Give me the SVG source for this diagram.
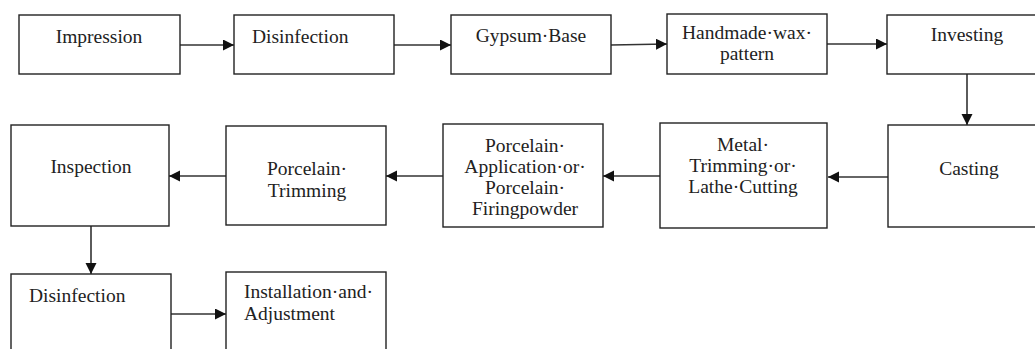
<svg xmlns="http://www.w3.org/2000/svg" width="1035" height="349" viewBox="0 0 1035 349">
<style>
.box{fill:#fff;stroke:#222;stroke-width:1.4}
.t{font-family:"Liberation Serif","Times New Roman",serif;font-size:19.5px;fill:#222}
.c{text-anchor:middle}
.ln{fill:none;stroke:#333;stroke-width:1.6}
</style>
<defs>
<marker id="ah" markerUnits="userSpaceOnUse" markerWidth="12" markerHeight="12" refX="11" refY="5.5" orient="auto">
<path d="M0,0 L11,5.5 L0,11 z" fill="#111"/>
</marker>
<clipPath id="cp"><rect x="443" y="124" width="160" height="102.5"/></clipPath>
</defs>
<rect width="1035" height="349" fill="#fff"/>
<g id="connectors">
<line class="ln" x1="180" y1="45" x2="234" y2="45" marker-end="url(#ah)"/>
<line class="ln" x1="394" y1="45" x2="451" y2="45" marker-end="url(#ah)"/>
<line class="ln" x1="611" y1="45" x2="667" y2="44" marker-end="url(#ah)"/>
<line class="ln" x1="827" y1="44" x2="887" y2="44" marker-end="url(#ah)"/>
<line class="ln" x1="967" y1="74" x2="967" y2="125" marker-end="url(#ah)"/>
<line class="ln" x1="888" y1="177" x2="828" y2="177" marker-end="url(#ah)"/>
<line class="ln" x1="660" y1="176" x2="603" y2="176" marker-end="url(#ah)"/>
<line class="ln" x1="443" y1="176" x2="386" y2="176" marker-end="url(#ah)"/>
<line class="ln" x1="226" y1="176" x2="169" y2="176" marker-end="url(#ah)"/>
<line class="ln" x1="91" y1="226" x2="91" y2="274" marker-end="url(#ah)"/>
<line class="ln" x1="171" y1="314" x2="226" y2="314" marker-end="url(#ah)"/>
</g>
<g id="impression">
<rect class="box" x="19" y="15" width="161" height="59"/>
<text class="t c" x="99" y="43">Impression</text>
</g>
<g id="disinfection1">
<rect class="box" x="234" y="15" width="160" height="59"/>
<text class="t" x="252" y="43">Disinfection</text>
</g>
<g id="gypsum">
<rect class="box" x="451" y="15" width="160" height="59"/>
<text class="t c" x="531" y="42">Gypsum·Base</text>
</g>
<g id="wax">
<rect class="box" x="667" y="14" width="160" height="60"/>
<text class="t c" x="747" y="39">Handmade·wax·</text>
<text class="t c" x="747" y="60">pattern</text>
</g>
<g id="investing">
<rect class="box" x="887" y="15" width="160" height="59"/>
<text class="t c" x="967" y="41">Investing</text>
</g>
<g id="casting">
<rect class="box" x="888" y="125" width="160" height="102"/>
<text class="t c" x="969" y="175">Casting</text>
</g>
<g id="metal">
<rect class="box" x="660" y="123" width="167" height="105"/>
<text class="t c" x="743" y="151">Metal·</text>
<text class="t c" x="743" y="172">Trimming·or·</text>
<text class="t c" x="743" y="193">Lathe·Cutting</text>
</g>
<g id="porcelain-application">
<rect class="box" x="443" y="124" width="160" height="103"/>
<g clip-path="url(#cp)">
<text class="t c" x="525" y="152">Porcelain·</text>
<text class="t c" x="525" y="173">Application·or·</text>
<text class="t c" x="525" y="194">Porcelain·</text>
<text class="t c" x="525" y="215">Firingpowder</text>
</g>
</g>
<g id="porcelain-trimming">
<rect class="box" x="226" y="126" width="160" height="99"/>
<text class="t c" x="307" y="175">Porcelain·</text>
<text class="t c" x="307" y="197">Trimming</text>
</g>
<g id="inspection">
<rect class="box" x="11" y="125" width="158" height="101"/>
<text class="t c" x="91" y="173">Inspection</text>
</g>
<g id="disinfection2">
<rect class="box" x="11" y="274" width="160" height="90"/>
<text class="t" x="29" y="302">Disinfection</text>
</g>
<g id="installation">
<rect class="box" x="226" y="272" width="160" height="92"/>
<text class="t" x="244" y="298">Installation·and·</text>
<text class="t" x="244" y="320">Adjustment</text>
</g>
</svg>
